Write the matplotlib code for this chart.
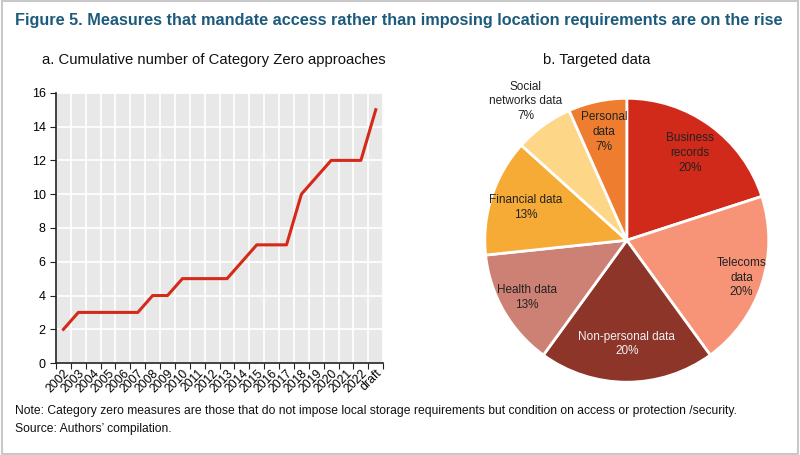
import numpy as np
import matplotlib
matplotlib.use("Agg")
import matplotlib.pyplot as plt
from matplotlib.patches import Rectangle

plt.rcParams['font.family'] = ['Liberation Sans', 'DejaVu Sans']

# Panel a: cumulative number of Category Zero approaches
years = ["2002", "2003", "2004", "2005", "2006", "2007", "2008", "2009", "2010",
         "2011", "2012", "2013", "2014", "2015", "2016", "2017", "2018", "2019",
         "2020", "2021", "2022", "draft"]
cumulative = [2, 3, 3, 3, 3, 3, 4, 4, 5, 5, 5, 5, 6, 7, 7, 7, 10, 11, 12, 12, 12, 15]

# Panel b: targeted data (counts out of 15)
pie_labels = ["Business\nrecords\n20%", "Telecoms\ndata\n20%", "Non-personal data\n20%",
              "Health data\n13%", "Financial data\n13%", "Social\nnetworks data\n7%",
              "Personal\ndata\n7%"]
pie_counts = [3, 3, 3, 2, 2, 1, 1]
pie_colors = ["#d12a1a", "#f79478", "#8e3529", "#cd8074", "#f5ab35", "#fdd787", "#ef7d2f"]
label_dist = [0.76, 0.85, 0.73, 0.81, 0.75, 1.21, 0.78]
label_color = ["#222222", "#222222", "#f2f2f2", "#222222", "#222222", "#222222", "#222222"]

fig = plt.figure(figsize=(8, 4.55), dpi=100)
fig.patches.append(Rectangle((0.002, 0.002), 0.996, 0.996, transform=fig.transFigure,
                             fill=False, edgecolor="#c8c8c8", linewidth=1.5))

fig.text(0.019, 0.955, "Figure 5. Measures that mandate access rather than imposing location requirements are on the rise",
         fontsize=11.7, fontweight="bold", color="#1d5a7c", va="center", ha="left")
fig.text(0.052, 0.868, "a. Cumulative number of Category Zero approaches",
         fontsize=10.7, color="#111111", va="center", ha="left")
fig.text(0.679, 0.868, "b. Targeted data",
         fontsize=10.7, color="#111111", va="center", ha="left")
fig.text(0.019, 0.097, "Note: Category zero measures are those that do not impose local storage requirements but condition on access or protection /security.",
         fontsize=8.7, color="#111111", va="center", ha="left")
fig.text(0.019, 0.057, "Source: Authors\u2019 compilation.",
         fontsize=8.7, color="#111111", va="center", ha="left")

# Line chart
ax = fig.add_axes([0.07, 0.202, 0.409, 0.594])
x = np.arange(len(years))
ax.set_facecolor("#e8e8e8")
ax.plot(x, cumulative, color="#d42a1a", linewidth=2.2, zorder=3)
ax.set_xlim(-0.5, len(years) - 0.5)
ax.set_ylim(0, 16)
ax.set_yticks(range(0, 17, 2))
ax.set_xticks(np.arange(-0.5, len(years), 1.0))
ax.set_xticklabels([])
ax.set_xticks(x, minor=True)
ax.set_xticklabels(years, minor=True, rotation=45, ha="right", rotation_mode="anchor",
                   fontsize=8.8)
ax.tick_params(axis="x", which="minor", length=0, pad=3)
ax.tick_params(axis="x", which="major", length=4, direction="out", color="#222222")
ax.tick_params(axis="y", length=4, direction="out", labelsize=9, color="#222222")
ax.grid(True, which="major", color="white", linewidth=1.2)
ax.set_axisbelow(True)
for s in ["top", "right"]:
    ax.spines[s].set_visible(False)
for s in ["left", "bottom"]:
    ax.spines[s].set_color("#222222")
    ax.spines[s].set_linewidth(1.2)

# Pie chart
pax = fig.add_axes([0.606, 0.160, 0.355, 0.624])
wedges, _ = pax.pie(pie_counts, colors=pie_colors, startangle=90, counterclock=False,
                    wedgeprops=dict(edgecolor="white", linewidth=2))
total = sum(pie_counts)
start = 90.0
for w, lab, d, c in zip(pie_counts, pie_labels, label_dist, label_color):
    span = 360.0 * w / total
    mid = np.deg2rad(start - span / 2)
    start -= span
    pax.text(d * np.cos(mid), d * np.sin(mid), lab, ha="center", va="center",
             fontsize=8.5, color=c, linespacing=1.3)
pax.set_xlim(-1, 1)
pax.set_ylim(-1, 1)
pax.set_aspect("equal")
pax.axis("off")

fig.savefig("out.png", dpi=100)
